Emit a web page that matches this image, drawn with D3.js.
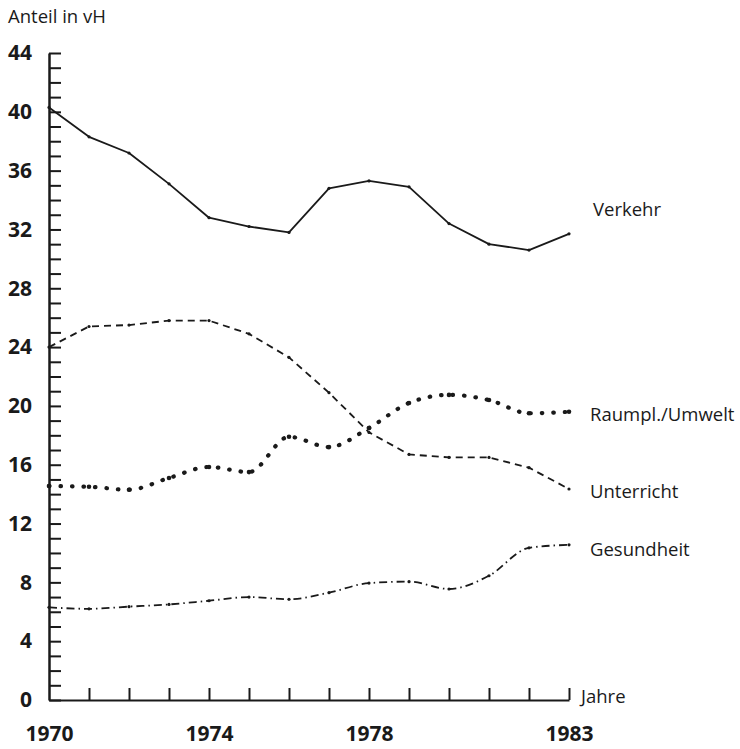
<!DOCTYPE html>
<html><head><meta charset="utf-8">
<script src="https://cdn.jsdelivr.net/npm/d3@7"></script>
<style>body{margin:0;background:#fff}svg{display:block}text{font-family:"Open Sans",sans-serif;fill:#1a1a1a}</style>
</head><body>
<script>
const years = [1970,1971,1972,1973,1974,1975,1976,1977,1978,1979,1980,1981,1982,1983];
const verkehr = [40.3,38.3,37.2,35.1,32.8,32.2,31.8,34.8,35.3,34.9,32.4,31.0,30.6,31.7];
const unterricht = [24.0,25.4,25.5,25.8,25.8,24.9,23.3,20.9,18.2,16.7,16.5,16.5,15.8,14.35];
const raumpl = [14.55,14.5,14.3,15.1,15.85,15.5,17.9,17.2,18.5,20.2,20.75,20.4,19.5,19.6];
const gesundheit = [6.3,6.2,6.35,6.5,6.75,7.0,6.85,7.3,7.95,8.05,7.55,8.45,10.35,10.55];
const yTickLabels = [0,4,8,12,16,20,24,28,32,36,40,44];
const xTickLabels = [1970,1974,1978,1983];
const seriesNames = ["Verkehr","Raumpl./Umwelt","Unterricht","Gesundheit"];

const W=740,H=749;
const svg=d3.select("body").append("svg").attr("width",W).attr("height",H);
const x=d3.scaleLinear().domain([1970,1983]).range([49,569]);
const y=d3.scaleLinear().domain([0,44]).range([700,53]);

// y axis minor ticks (right side)
const ya=svg.append("g").attr("transform",`translate(${x(1970)},0)`)
  .call(d3.axisRight(y).tickValues(d3.range(0,45)).tickSize(12).tickSizeOuter(0).tickFormat(""));
ya.select(".domain").attr("stroke","#1a1a1a").attr("stroke-width",2.5);
ya.selectAll(".tick line").attr("stroke","#1a1a1a").attr("stroke-width",2);
const yl=svg.append("g").attr("transform",`translate(${x(1970)},0)`)
  .call(d3.axisLeft(y).tickValues(yTickLabels).tickSize(0).tickPadding(17));
yl.select(".domain").remove();
yl.selectAll("text").attr("font-size",21).attr("font-weight","bold").attr("font-family","'Open Sans',sans-serif").attr("fill","#1a1a1a");

// x axis ticks (upward)
const xa=svg.append("g").attr("transform",`translate(0,${y(0)})`)
  .call(d3.axisTop(x).tickValues(years.slice(1)).tickSize(12).tickSizeOuter(0).tickFormat(""));
xa.select(".domain").attr("stroke","#1a1a1a").attr("stroke-width",2);
xa.selectAll(".tick line").attr("stroke","#1a1a1a").attr("stroke-width",2);
const xl=svg.append("g").attr("transform",`translate(0,${y(0)})`)
  .call(d3.axisBottom(x).tickValues(xTickLabels).tickSize(0).tickPadding(26).tickFormat(d3.format("d")));
xl.select(".domain").remove();
xl.selectAll("text").attr("font-size",21).attr("font-weight","bold").attr("font-family","'Open Sans',sans-serif").attr("fill","#1a1a1a");

svg.append("text").attr("x",8).attr("y",23).attr("font-size",18.5).text("Anteil in vH");
svg.append("text").attr("x",581).attr("y",703).attr("font-size",18.5).text("Jahre");

function draw(vals,opts){
  const line=d3.line().x((d,i)=>x(years[i])).y(d=>y(d)).curve(opts.curve||d3.curveLinear);
  svg.append("path").datum(vals).attr("d",line).attr("fill","none").attr("stroke","#1a1a1a")
    .attr("stroke-width",opts.w).attr("stroke-dasharray",opts.dash||null)
    .attr("stroke-linecap",opts.cap||"butt").attr("stroke-linejoin","round");
  svg.append("g").selectAll("circle").data(vals).join("circle")
    .attr("cx",(d,i)=>x(years[i])).attr("cy",d=>y(d)).attr("r",opts.r||1.6).attr("fill","#1a1a1a");
}
draw(verkehr,{w:1.8});
draw(unterricht,{w:1.8,dash:"7,5"});
draw(raumpl,{w:4.2,dash:"0.5,11",cap:"round",curve:d3.curveMonotoneX,r:2.3});
draw(gesundheit,{w:1.8,dash:"8,4,1.5,4",curve:d3.curveMonotoneX});

const labY=[216,421,498,556];
svg.append("g").selectAll("text").data(seriesNames).join("text")
  .attr("x",(d,i)=>i===0?593:590).attr("y",(d,i)=>labY[i]).attr("font-size",18.5).text(d=>d);
</script>
</body></html>
